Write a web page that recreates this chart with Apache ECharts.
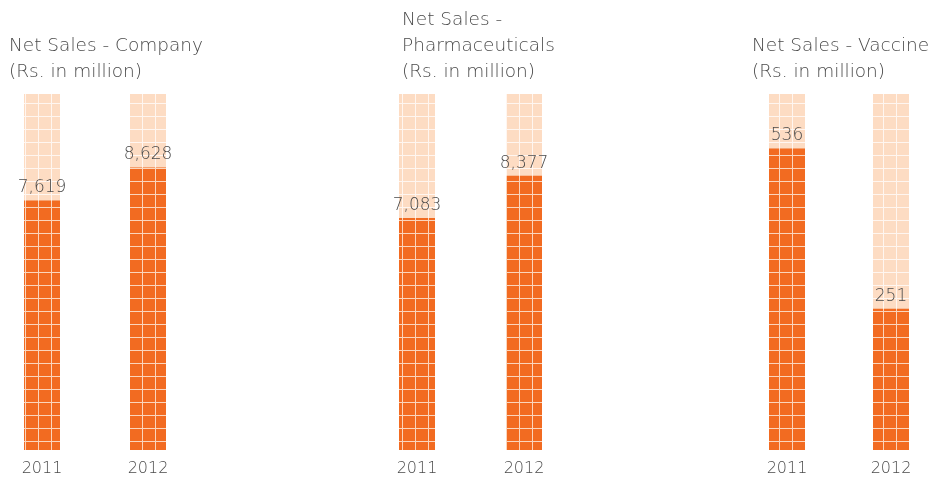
<!DOCTYPE html>
<html>
<head>
<meta charset="utf-8">
<script src="https://cdn.jsdelivr.net/npm/echarts@6/dist/echarts.min.js"></script>
<style>
html,body{margin:0;padding:0;background:#fff;}
#chart{width:932px;height:478px;}
</style>
</head>
<body>
<div id="chart"></div>
<script>
const years = ['2011', '2012'];
const companySales = [7619, 8628];
const pharmaSales = [7083, 8377];
const vaccineSales = [536, 251];
const panelTitles = [
  'Net Sales - Company\n(Rs. in million)',
  'Net Sales -\nPharmaceuticals\n(Rs. in million)',
  'Net Sales - Vaccine\n(Rs. in million)'
];
const axisMax = [10870, 10870, 633];
const panelValues = [companySales, pharmaSales, vaccineSales];

const FONT = '"DejaVu Sans"';
const textColor = '#4a4a4a';
const orange = '#F26B21';
const peach = '#FDDCC3';

const chart = echarts.init(document.getElementById('chart'), null, {renderer: 'canvas'});

const gridDefs = [
  {left: 42, width: 106},
  {left: 417, width: 107},
  {left: 787, width: 104}
];
const titleDefs = [
  {left: 4, top: 28},
  {left: 397, top: 2},
  {left: 747, top: 28}
];

const grids = [], xAxes = [], yAxes = [], series = [], titles = [];
const fmt = v => String(v).replace(/\B(?=(\d{3})+(?!\d))/g, ',');

panelValues.forEach((vals, i) => {
  grids.push({left: gridDefs[i].left, width: gridDefs[i].width, top: 94, height: 356});
  xAxes.push({
    type: 'category', gridIndex: i, data: years, boundaryGap: false,
    axisLine: {show: false}, axisTick: {show: false}, splitLine: {show: false},
    axisLabel: {color: textColor, fontSize: 16, fontFamily: FONT, fontWeight: 200, margin: 11}
  });
  yAxes.push({
    type: 'value', gridIndex: i, min: 0, max: axisMax[i], show: false,
    splitLine: {show: false}
  });
  titles.push({
    text: panelTitles[i], left: titleDefs[i].left, top: titleDefs[i].top,
    textStyle: {color: textColor, fontSize: 18.5, fontFamily: FONT, fontWeight: 200, lineHeight: 26}
  });
  series.push({
    type: 'bar', xAxisIndex: i, yAxisIndex: i, barWidth: 36, silent: true,
    data: years.map(() => axisMax[i]),
    itemStyle: {
      color: '#FFF6F0',
      decal: {symbol: 'rect', symbolSize: 1, color: peach, dashArrayX: [[12, 1]], dashArrayY: [12, 1], rotation: 0}
    },
    z: 1
  });
  series.push({
    type: 'bar', xAxisIndex: i, yAxisIndex: i, barWidth: 36, barGap: '-100%',
    data: vals,
    itemStyle: {
      color: '#FBD5BC',
      decal: {symbol: 'rect', symbolSize: 1, color: orange, dashArrayX: [[12, 1]], dashArrayY: [12, 1], rotation: 0}
    },
    label: {
      show: true, position: 'top', distance: 4, color: textColor,
      fontSize: 17, fontFamily: FONT, fontWeight: 200,
      formatter: p => fmt(p.value)
    },
    z: 2
  });
});

chart.setOption({
  animation: false,
  backgroundColor: '#fff',
  title: titles,
  grid: grids,
  xAxis: xAxes,
  yAxis: yAxes,
  series: series
});
</script>
</body>
</html>
